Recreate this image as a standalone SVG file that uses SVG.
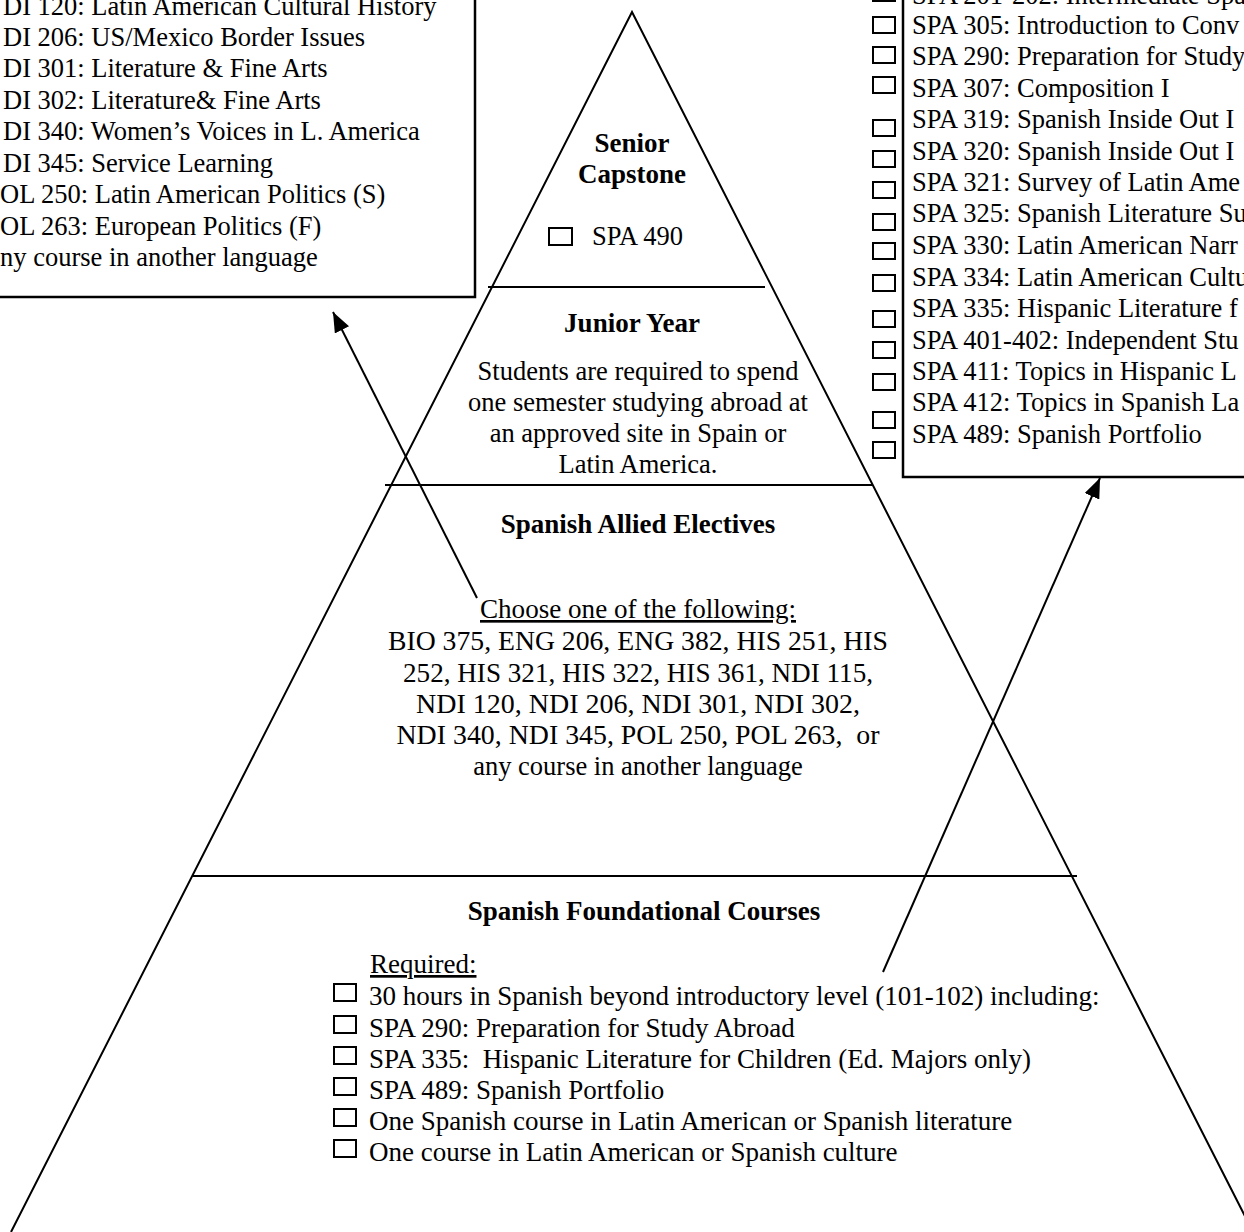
<svg xmlns="http://www.w3.org/2000/svg" width="1244" height="1232" viewBox="0 0 1244 1232">
<style>
.t{font-family:"Liberation Serif","Times New Roman",serif;font-size:26.5px;fill:#000}
.f{font-size:27px}
.b{font-weight:bold;font-size:27px}
.m{text-anchor:middle}
.u{text-decoration:underline}
.ln{fill:none;stroke:#000;stroke-width:2}
.bx{fill:#fff;stroke:#000;stroke-width:2}
</style>
<defs>
<marker id="ah" markerUnits="userSpaceOnUse" markerWidth="22" markerHeight="16" refX="20" refY="8" orient="auto">
<path d="M0,0 L20,8 L0,16 Z" fill="#000"/>
</marker>
</defs>
<rect width="1244" height="1232" fill="#fff"/>

<g id="pyramid">
<path class="ln" d="M11,1232 L632,12 L1253,1232"/>
<line class="ln" x1="488" y1="287" x2="765" y2="287"/>
<line class="ln" x1="385" y1="485" x2="872" y2="485"/>
<line class="ln" x1="193" y1="876" x2="1077" y2="876"/>
</g>

<g id="tier-senior">
<text class="t b m" x="632" y="152">Senior</text>
<text class="t b m" x="632" y="183">Capstone</text>
<rect class="bx" x="549" y="228" width="23" height="17"/>
<text class="t" x="592" y="245">SPA 490</text>
</g>

<g id="tier-junior">
<text class="t b m" x="632" y="332">Junior Year</text>
<text class="t m" x="638" y="380">Students are required to spend</text>
<text class="t m" x="638" y="411">one semester studying abroad at</text>
<text class="t m" x="638" y="442">an approved site in Spain or</text>
<text class="t m" x="638" y="473">Latin America.</text>
</g>

<g id="tier-allied">
<text class="t b m" x="638" y="533">Spanish Allied Electives</text>
<text class="t m u" x="638" y="618" textLength="316" lengthAdjust="spacingAndGlyphs">Choose one of the following:</text>
<text class="t m" x="638" y="650" textLength="500" lengthAdjust="spacingAndGlyphs">BIO 375, ENG 206, ENG 382, HIS 251, HIS</text>
<text class="t m" x="638" y="681.5" textLength="470" lengthAdjust="spacingAndGlyphs">252, HIS 321, HIS 322, HIS 361, NDI 115,</text>
<text class="t m" x="638" y="713" textLength="444" lengthAdjust="spacingAndGlyphs">NDI 120, NDI 206, NDI 301, NDI 302,</text>
<text class="t m" x="638" y="744" textLength="483" lengthAdjust="spacingAndGlyphs" xml:space="preserve">NDI 340, NDI 345, POL 250, POL 263,  or</text>
<text class="t m" x="638" y="775">any course in another language</text>
</g>

<g id="tier-foundational">
<text class="t b m" x="644" y="920">Spanish Foundational Courses</text>
<text class="t f u" x="370" y="973">Required:</text>
<rect class="bx" x="334" y="984" width="22" height="17"/>
<text class="t f" x="369" y="1005">30 hours in Spanish beyond introductory level (101-102) including:</text>
<rect class="bx" x="334" y="1016" width="22" height="17"/>
<text class="t f" x="369" y="1037">SPA 290: Preparation for Study Abroad</text>
<rect class="bx" x="334" y="1047" width="22" height="17"/>
<text class="t f" x="369" y="1068" xml:space="preserve">SPA 335:  Hispanic Literature for Children (Ed. Majors only)</text>
<rect class="bx" x="334" y="1078" width="22" height="17"/>
<text class="t f" x="369" y="1099">SPA 489: Spanish Portfolio</text>
<rect class="bx" x="334" y="1109" width="22" height="17"/>
<text class="t f" x="369" y="1130">One Spanish course in Latin American or Spanish literature</text>
<rect class="bx" x="334" y="1140" width="22" height="17"/>
<text class="t f" x="369" y="1161">One course in Latin American or Spanish culture</text>
</g>

<g id="allied-list-box">
<rect x="-10" y="-10" width="485" height="307" fill="#fff" stroke="#000" stroke-width="2.5"/>
<text class="t" x="3" y="15">DI 120: Latin American Cultural History</text>
<text class="t" x="3" y="45.5">DI 206: US/Mexico Border Issues</text>
<text class="t" x="3" y="77">DI 301: Literature &amp; Fine Arts</text>
<text class="t" x="3" y="108.5">DI 302: Literature&amp; Fine Arts</text>
<text class="t" x="3" y="140">DI 340: Women’s Voices in L. America</text>
<text class="t" x="3" y="171.5">DI 345: Service Learning</text>
<text class="t" x="0" y="203">OL 250: Latin American Politics (S)</text>
<text class="t" x="0" y="234.5">OL 263: European Politics (F)</text>
<text class="t" x="0" y="266">ny course in another language</text>
</g>

<g id="spanish-list-box">
<rect x="903" y="-10" width="360" height="487" fill="#fff" stroke="#000" stroke-width="2.5"/>
<rect class="bx" x="873" y="-15" width="22" height="16"/>
<text class="t" x="912" y="4">SPA 201-202: Intermediate Spa</text>
<rect class="bx" x="873" y="17" width="22" height="16"/>
<text class="t" x="912" y="34">SPA 305: Introduction to Conv</text>
<rect class="bx" x="873" y="47" width="22" height="16"/>
<text class="t" x="912" y="65">SPA 290: Preparation for Study</text>
<rect class="bx" x="873" y="77" width="22" height="16"/>
<text class="t" x="912" y="97">SPA 307: Composition I</text>
<rect class="bx" x="873" y="120" width="22" height="16"/>
<text class="t" x="912" y="128">SPA 319: Spanish Inside Out I</text>
<rect class="bx" x="873" y="151" width="22" height="16"/>
<text class="t" x="912" y="160">SPA 320: Spanish Inside Out I</text>
<rect class="bx" x="873" y="182" width="22" height="16"/>
<text class="t" x="912" y="191">SPA 321: Survey of Latin Ame</text>
<rect class="bx" x="873" y="214" width="22" height="16"/>
<text class="t" x="912" y="222">SPA 325: Spanish Literature Su</text>
<rect class="bx" x="873" y="243" width="22" height="16"/>
<text class="t" x="912" y="254">SPA 330: Latin American Narr</text>
<rect class="bx" x="873" y="275" width="22" height="16"/>
<text class="t" x="912" y="286">SPA 334: Latin American Cultu</text>
<rect class="bx" x="873" y="311" width="22" height="16"/>
<text class="t" x="912" y="317">SPA 335: Hispanic Literature f</text>
<rect class="bx" x="873" y="342" width="22" height="16"/>
<text class="t" x="912" y="349">SPA 401-402: Independent Stu</text>
<rect class="bx" x="873" y="374" width="22" height="16"/>
<text class="t" x="912" y="380">SPA 411: Topics in Hispanic L</text>
<rect class="bx" x="873" y="412" width="22" height="16"/>
<text class="t" x="912" y="411">SPA 412: Topics in Spanish La</text>
<rect class="bx" x="873" y="442" width="22" height="16"/>
<text class="t" x="912" y="443">SPA 489: Spanish Portfolio</text>
</g>

<g id="connectors">
<line class="ln" x1="477" y1="598" x2="333" y2="312" marker-end="url(#ah)"/>
<line class="ln" x1="883" y1="972" x2="1100" y2="478" marker-end="url(#ah)"/>
</g>
</svg>
